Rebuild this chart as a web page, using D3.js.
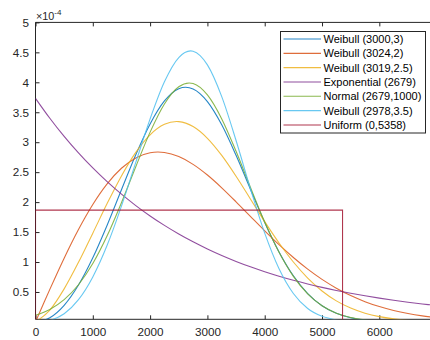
<!DOCTYPE html>
<html>
<head>
<meta charset="utf-8">
<script src="https://cdn.jsdelivr.net/npm/d3@7"></script>
<style>
  body { margin: 0; background: #fff; }
  svg { font-family: "Liberation Sans", Arial, Helvetica, sans-serif; }
  .axis text { fill: #262626; font-size: 11.7px; }
  .axis line { stroke: #262626; }
  .legend text { fill: #000; font-size: 11px; }
</style>
</head>
<body>
<svg id="chart"></svg>
<script>
// x positions of the samples (hours) and densities, in units of 1e-4
var xs = [0, 250, 500, 750, 1000, 1250, 1500, 1750, 2000, 2250, 2500, 2750, 3000, 3250, 3500,
          3750, 4000, 4250, 4500, 4750, 5000, 5250, 5500, 5750, 6000, 6250, 6500, 6750, 7000];

var weib3000 = [0, 0.0694, 0.2765, 0.6153, 1.0707, 1.6150, 2.2063, 2.7904, 3.3047, 3.6890, 3.8933, 3.8896, 3.6788, 3.2911, 2.7816,
                2.2163, 1.6610, 1.1689, 0.7700, 0.4735, 0.2711, 0.1441, 0.0709, 0.0321, 0.0134, 0.0051, 0.0017, 0.0005, 0.0001];
var weib3024 = [0, 0.5431, 1.0641, 1.5425, 1.9605, 2.3045, 2.5649, 2.7381, 2.8245, 2.8290, 2.7605, 2.6305, 2.4522, 2.2393, 2.0052,
                1.7623, 1.5208, 1.2894, 1.0749, 0.8809, 0.7104, 0.5638, 0.4403, 0.3384, 0.2561, 0.1908, 0.1400, 0.1012, 0.0720];
var weib3019 = [0, 0.1970, 0.5519, 0.9943, 1.4820, 1.9758, 2.4370, 2.8296, 3.1239, 3.2985, 3.3435, 3.2611, 3.0653, 2.7791, 2.4315,
                2.0533, 1.6742, 1.3173, 1.0002, 0.7327, 0.5173, 0.3519, 0.2308, 0.1458, 0.0886, 0.0518, 0.0291, 0.0160, 0.0080];
var expo2679 = [3.7327, 3.4002, 3.0972, 2.8212, 2.5698, 2.3409, 2.1323, 1.9423, 1.7692, 1.6116, 1.4680, 1.3372, 1.2180, 1.1095, 1.0106,
                0.9206, 0.8386, 0.7638, 0.6958, 0.6338, 0.5773, 0.5259, 0.4790, 0.4363, 0.3975, 0.3620, 0.3298, 0.3004, 0.2736];
var norm2679 = [0.1103, 0.2089, 0.3716, 0.6208, 0.9745, 1.4371, 1.9909, 2.5911, 3.1681, 3.6387, 3.9260, 3.9794, 3.7891, 3.3893, 2.8481,
                2.2482, 1.6672, 1.1614, 0.7600, 0.4673, 0.2699, 0.1464, 0.0746, 0.0357, 0.0161, 0.0067, 0.0026, 0.0009, 0.0003];
var weib2978 = [0, 0.0240, 0.1355, 0.3711, 0.7513, 1.2788, 1.9327, 2.6630, 3.3891, 4.0084, 4.4133, 4.5189, 4.2907, 3.7611, 3.0282,
                2.2253, 1.4818, 0.8876, 0.4745, 0.2245, 0.0932, 0.0336, 0.0100, 0.0020, 0.0003, 0, 0, 0, 0];

// uniform (0,5358) drawn as a box
var unifX = [0, 0, 5358, 5358];
var unifY = [0, 1.866, 1.866, 0];

var legendNames = ["Weibull (3000,3)", "Weibull (3024,2)", "Weibull (3019,2.5)", "Exponential (2679)",
                   "Normal (2679,1000)", "Weibull (2978,3.5)", "Uniform (0,5358)"];
var colors = ["#0072BD", "#D95319", "#EDB120", "#7E2F8E", "#77AC30", "#4DBEEE", "#A2142F"];

var xTicks = [0, 1000, 2000, 3000, 4000, 5000, 6000];
var yTicks = [0.5, 1, 1.5, 2, 2.5, 3, 3.5, 4, 4.5, 5];

//define size, scales
var W = 430, H = 340;
var m = {left: 35.5, top: 22.4, bottom: 319.3, right: 430.9};

var xScale = d3.scaleLinear().domain([0, 6900]).range([m.left, m.right]);
var yScale = d3.scaleLinear().domain([0.044, 5]).range([m.bottom, m.top]);

var svg = d3.select("#chart")
	.attr("width", W)
	.attr("height", H);

svg.append("defs").append("clipPath")
	.attr("id", "plotclip")
	.append("rect")
	.attr("x", m.left)
	.attr("y", m.top)
	.attr("width", m.right - m.left)
	.attr("height", m.bottom - m.top);

//axes with inward ticks
svg.append("g")
	.attr("class", "axis")
	.attr("transform", "translate(0," + m.bottom + ")")
	.call(d3.axisBottom(xScale).tickValues(xTicks).tickSizeInner(-4).tickSizeOuter(0).tickPadding(8.5)
		.tickFormat(d3.format("d")))
	.call(function(g) { g.select(".domain").remove(); });

svg.append("g")
	.attr("class", "axis")
	.attr("transform", "translate(0," + m.top + ")")
	.call(d3.axisTop(xScale).tickValues(xTicks).tickSizeInner(-4).tickSizeOuter(0).tickFormat(""))
	.call(function(g) { g.select(".domain").remove(); });

svg.append("g")
	.attr("class", "axis")
	.attr("transform", "translate(" + m.left + ",0)")
	.call(d3.axisLeft(yScale).tickValues(yTicks).tickSizeInner(-4).tickSizeOuter(0).tickPadding(6.5)
		.tickFormat(function(d) { return d; }))
	.call(function(g) { g.select(".domain").remove(); });

//box
svg.append("path")
	.attr("d", "M" + m.right + "," + m.top + "H" + m.left + "V" + m.bottom + "H" + m.right)
	.attr("fill", "none")
	.attr("stroke", "#262626")
	.attr("stroke-width", 1);

//exponent label
var expo = svg.append("text")
	.attr("x", 36)
	.attr("y", 19.5)
	.attr("fill", "#262626")
	.style("font-size", "10.8px")
	.text("\u00d710");
expo.append("tspan")
	.attr("dy", -5)
	.style("font-size", "8px")
	.text("-4");

//curves
var series = [weib3000, weib3024, weib3019, expo2679, norm2679, weib2978];
var line = d3.line()
	.x(function(d, i) { return xScale(xs[i]); })
	.y(function(d) { return yScale(d); })
	.curve(d3.curveCardinal.tension(0));

var plot = svg.append("g").attr("clip-path", "url(#plotclip)");

series.forEach(function(s, i) {
	plot.append("path")
		.datum(s)
		.attr("fill", "none")
		.attr("stroke", colors[i])
		.attr("stroke-width", 1.1)
		.attr("stroke-opacity", 0.85)
		.attr("d", line);
});

plot.append("path")
	.datum(unifY)
	.attr("fill", "none")
	.attr("stroke", colors[6])
	.attr("stroke-width", 1.1)
	.attr("stroke-opacity", 0.85)
	.attr("d", d3.line()
		.x(function(d, i) { return xScale(unifX[i]); })
		.y(function(d) { return yScale(d); }));

//legend
var leg = svg.append("g").attr("class", "legend");
leg.append("rect")
	.attr("x", 280.5)
	.attr("y", 31.5)
	.attr("width", 145)
	.attr("height", 101.5)
	.attr("fill", "#fff")
	.attr("stroke", "#262626")
	.attr("stroke-width", 1);

legendNames.forEach(function(name, i) {
	var yy = 39 + i * 14.33;
	leg.append("line")
		.attr("x1", 283.5)
		.attr("x2", 321)
		.attr("y1", yy)
		.attr("y2", yy)
		.attr("stroke", colors[i])
		.attr("stroke-opacity", 0.85)
		.attr("stroke-width", 1.1);
	leg.append("text")
		.attr("x", 323.5)
		.attr("y", yy)
		.attr("dy", "0.36em")
		.text(name);
});
</script>
</body>
</html>
